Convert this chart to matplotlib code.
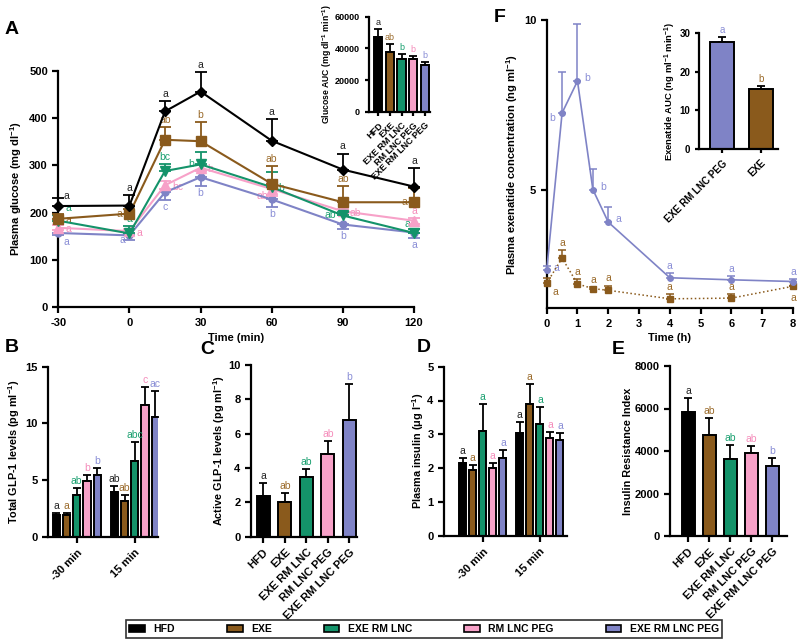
import matplotlib
matplotlib.use("Agg")
import matplotlib.pyplot as plt
from matplotlib.patches import Patch
import numpy as np

plt.rcParams['font.family'] = ['Liberation Sans', 'DejaVu Sans']
plt.rcParams['font.weight'] = 'bold'
plt.rcParams['axes.labelweight'] = 'bold'
plt.rcParams['axes.unicode_minus'] = False
plt.rcParams['mathtext.fontset'] = 'custom'
plt.rcParams['mathtext.rm'] = 'Liberation Sans:bold'
plt.rcParams['mathtext.default'] = 'rm'
plt.rcParams['axes.linewidth'] = 1.6
plt.rcParams['xtick.major.width'] = 1.6
plt.rcParams['ytick.major.width'] = 1.6
plt.rcParams['xtick.major.size'] = 4
plt.rcParams['ytick.major.size'] = 4

# groups and colours
groups = ["HFD", "EXE", "EXE RM LNC", "RM LNC PEG", "EXE RM LNC PEG"]
colors = ["#000000", "#8a5a1c", "#14936a", "#f7a1c8", "#7f83c6"]
text_colors = ["#222222", "#9a6a2a", "#1aa070", "#f58dbb", "#8a8ed6"]

# A - glucose tolerance test
time_min = [-30, 0, 15, 30, 60, 90, 120]
glu_hfd = [214, 215, 414, 456, 352, 291, 255]
glu_hfd_err = [17, 23, 22, 41, 46, 34, 39]
glu_exe = [187, 198, 354, 351, 261, 222, 222]
glu_exe_err = [11, 10, 26, 41, 37, 35, 30]
glu_rmlnc = [183, 156, 288, 302, 254, 194, 157]
glu_rmlnc_err = [13, 16, 14, 26, 31, 8, 8]
glu_peg = [168, 161, 258, 295, 250, 203, 183]
glu_peg_err = [5, 4, 8, 6, 14, 5, 6]
glu_exepeg = [157, 152, 243, 275, 228, 175, 158]
glu_exepeg_err = [5, 10, 17, 18, 16, 10, 12]
glu_letters = [
    ["a", "a", "a", "a", "a", "a", "a"],
    ["a", "a", "ab", "b", "ab", "ab", "a"],
    ["a", "a", "bc", "b", "b", "ab", "a"],
    ["a", "a", "bc", "b", "ab", "ab", "a"],
    ["a", "a", "c", "b", "b", "b", "a"],
]

# A inset - glucose AUC
auc_glu = [47400, 37900, 33100, 33500, 29500]
auc_glu_err = [4600, 4600, 3150, 1700, 1700]
auc_glu_letters = ["a", "ab", "b", "b", "b"]

# B - total GLP-1
times_bd = ["-30 min", "15 min"]
glp1_tot_m30 = [1.91, 1.88, 3.68, 4.88, 5.41]
glp1_tot_m30_err = [0.21, 0.18, 0.58, 0.56, 0.62]
glp1_tot_15 = [3.97, 3.18, 6.68, 11.62, 10.53]
glp1_tot_15_err = [0.5, 0.52, 1.67, 1.62, 2.35]
glp1_tot_letters = [["a", "a", "ab", "b", "b"], ["ab", "ab", "abc", "c", "ac"]]

# C - active GLP-1
glp1_act = [2.39, 2.02, 3.5, 4.82, 6.8]
glp1_act_err = [0.72, 0.54, 0.44, 0.73, 2.07]
glp1_act_letters = ["a", "ab", "ab", "ab", "b"]

# D - insulin
ins_m30 = [2.14, 1.94, 3.1, 2.01, 2.31]
ins_m30_err = [0.17, 0.15, 0.79, 0.13, 0.22]
ins_15 = [3.05, 3.9, 3.31, 2.88, 2.83]
ins_15_err = [0.32, 0.58, 0.51, 0.18, 0.2]
ins_letters = [["a"] * 5, ["a"] * 5]

# E - insulin resistance index
homa = [5850, 4750, 3620, 3920, 3290]
homa_err = [630, 820, 640, 310, 360]
homa_letters = ["a", "ab", "ab", "ab", "b"]

# F - pharmacokinetics
time_h = [0, 0.5, 1, 1.5, 2, 4, 6, 8]
conc_exepeg = [2.62, 7.26, 8.2, 5.0, 4.04, 2.40, 2.34, 2.29]
conc_exepeg_err = [0.12, 1.21, 1.68, 0.62, 0.45, 0.14, 0.10, 0.06]
conc_exepeg_letters = ["a", "b", "b", "b", "a", "a", "a", "a"]
conc_exe = [2.24, 2.98, 2.22, 2.08, 2.03, 1.78, 1.80, 2.15]
conc_exe_err = [0.15, 0.25, 0.15, 0.04, 0.14, 0.13, 0.13, 0.0]
conc_exe_letters = ["a", "a", "a", "a", "a", "a", "a", "a"]
auc_exe_groups = ["EXE RM LNC PEG", "EXE"]
auc_exe = [27.7, 15.5]
auc_exe_err = [1.4, 0.9]
auc_exe_letters = ["a", "b"]

W, H = 800, 643
fig = plt.figure(figsize=(8, 6.43), dpi=100)


def box(l, t, r, b):
    return [l / W, 1 - b / H, (r - l) / W, (b - t) / H]


def style(ax, fs=8):
    ax.spines['top'].set_visible(False)
    ax.spines['right'].set_visible(False)
    ax.tick_params(labelsize=fs)
    for t in ax.get_xticklabels() + ax.get_yticklabels():
        t.set_fontweight('bold')


def letter(ax, x, y, s, color, dx=0, dy=1.5, ha='center', va='bottom', fs=7.5):
    ax.annotate(s, (x, y), xytext=(dx, dy), textcoords='offset points',
                ha=ha, va=va, color=color, fontsize=fs, fontweight='normal',
                annotation_clip=False)


def bars(ax, xs, vals, errs, cols, width, letters, tcols, fs=7.5):
    ax.bar(xs, vals, width, color=cols, edgecolor='black', linewidth=1.4, zorder=2)
    ax.errorbar(xs, vals, yerr=[np.zeros(len(vals)), errs], fmt='none',
                ecolor='black', elinewidth=1.3, capsize=3, capthick=1.3, zorder=1)
    for x, v, e, s, c in zip(xs, vals, errs, letters, tcols):
        letter(ax, x, v + e, s, c, fs=fs)


# ---------- A ----------
axA = fig.add_axes(box(58.3, 70.7, 414, 307.3))
series = [glu_hfd, glu_exe, glu_rmlnc, glu_peg, glu_exepeg]
errs = [glu_hfd_err, glu_exe_err, glu_rmlnc_err, glu_peg_err, glu_exepeg_err]
markers = ['D', 's', 'v', '^', 'o']
msizes = [5, 7, 6.5, 6.5, 5]
err_dir = ['up', 'up', 'up', 'both', 'down']
places = [
    ['ur', 'u', 'u', 'u', 'u', 'u', 'u'],
    ['r', 'l', 'u', 'u', 'u', 'u', 'l'],
    ['ru', 'u', 'u', 'l', 'r', 'l', 'ul'],
    ['r', 'r', 'r', 'r', 'dl', 'r', 'u'],
    ['dr', 'dl', 'd', 'd', 'd', 'd', 'd'],
]
for i in range(5):
    v = np.array(series[i], float)
    e = np.array(errs[i], float)
    lo = e if err_dir[i] in ('down', 'both') else np.zeros_like(e)
    hi = e if err_dir[i] in ('up', 'both') else np.zeros_like(e)
    axA.errorbar(time_min, v, yerr=[lo, hi], color=colors[i], marker=markers[i],
                 ms=msizes[i], lw=1.5, elinewidth=1.3, capsize=4, capthick=1.3,
                 clip_on=False, zorder=5 - i * 0.5)
    for x, y, l, h, s, p in zip(time_min, v, lo, hi, glu_letters[i], places[i]):
        c = text_colors[i]
        if p == 'u':
            letter(axA, x, y + h, s, c)
        elif p == 'ur':
            letter(axA, x, y + h, s, c, dx=4, dy=-2.5, ha='left')
        elif p == 'ru':
            letter(axA, x, y + h, s, c, dx=5, dy=1, ha='left')
        elif p == 'ul':
            letter(axA, x, y + h, s, c, dx=-3, dy=0, ha='right')
        elif p == 'r':
            letter(axA, x, y, s, c, dx=5, dy=-1, ha='left', va='center')
        elif p == 'l':
            letter(axA, x, y, s, c, dx=-5, dy=0, ha='right', va='center')
        elif p == 'd':
            letter(axA, x, y - l, s, c, dy=-1.5, va='top')
        elif p == 'dr':
            letter(axA, x, y - l, s, c, dx=4, dy=-1, ha='left', va='top')
        elif p == 'dl':
            letter(axA, x, y - l, s, c, dx=-3, dy=0, ha='right', va='center')
axA.set_xlim(-30, 120)
axA.set_ylim(0, 500)
axA.set_xticks([-30, 0, 30, 60, 90, 120])
axA.set_yticks([0, 100, 200, 300, 400, 500])
axA.set_xlabel("Time (min)", fontsize=8, labelpad=3.5)
axA.set_ylabel("Plasma glucose (mg dl$^{-1}$)", fontsize=8, labelpad=4)
style(axA)

# inset A
axAi = fig.add_axes(box(369, 16.7, 430, 111.7))
xs = np.arange(5)
bars(axAi, xs, auc_glu, auc_glu_err, colors, 0.7, auc_glu_letters, text_colors, fs=6.5)
axAi.set_xlim(-0.8, 4.45)
axAi.set_ylim(0, 60000)
axAi.set_yticks([0, 20000, 40000, 60000])
axAi.set_xticks(xs)
axAi.set_xticklabels(groups, rotation=45, ha='right', rotation_mode='anchor')
axAi.set_ylabel("Glucose AUC (mg dl$^{-1}$ min$^{-1}$)", fontsize=6.2, labelpad=0.5)
style(axAi, fs=6.5)
axAi.tick_params(length=3)

# ---------- F ----------
axF = fig.add_axes(box(546.7, 20, 793, 308.3))
axF.errorbar(time_h, conc_exepeg, yerr=[np.zeros(8), conc_exepeg_err], color=colors[4],
             marker='o', ms=4, lw=1.2, elinewidth=1.1, capsize=3, capthick=1.1,
             clip_on=False, zorder=4)
axF.errorbar(time_h, conc_exe, yerr=[np.zeros(8), conc_exe_err], color=colors[1],
             marker='s', ms=4.5, lw=1.1, ls=':', elinewidth=1.1, capsize=3, capthick=1.1,
             clip_on=False, zorder=3)
pl_peg = ['r', 'l', 'r', 'r', 'r', 'u', 'u', 'u']
pl_exe = ['dr', 'u', 'u', 'u', 'u', 'u', 'u', 'd']
for x, y, e, s, p in zip(time_h, conc_exepeg, conc_exepeg_err, conc_exepeg_letters, pl_peg):
    c = text_colors[4]
    if p == 'u':
        letter(axF, x, y + e, s, c)
    elif p == 'r':
        letter(axF, x, y, s, c, dx=5, dy=2, ha='left', va='center')
    else:
        letter(axF, x, y, s, c, dx=-5, dy=-4, ha='right', va='center')
for x, y, e, s, p in zip(time_h, conc_exe, conc_exe_err, conc_exe_letters, pl_exe):
    c = text_colors[1]
    if p == 'u':
        letter(axF, x, y + e, s, c)
    elif p == 'dr':
        letter(axF, x, y, s, c, dx=4, dy=-3, ha='left', va='top')
    else:
        letter(axF, x, y, s, c, dy=-5, va='top')
axF.set_xlim(0, 8)
axF.set_ylim(1.5, 10)
axF.set_xticks(range(9))
axF.set_yticks([5, 10])
axF.set_xlabel("Time (h)", fontsize=8, labelpad=3)
axF.set_ylabel("Plasma exenatide concentration (ng ml$^{-1}$)", fontsize=8, labelpad=3)
style(axF)

# inset F
axFi = fig.add_axes(box(699.3, 33.3, 778, 149))
xs = np.arange(2)
bars(axFi, xs, auc_exe, auc_exe_err, [colors[4], colors[1]], 0.6, auc_exe_letters,
     [text_colors[4], text_colors[1]], fs=7)
axFi.set_xlim(-0.58, 1.44)
axFi.set_ylim(0, 30)
axFi.set_yticks([0, 10, 20, 30])
axFi.set_xticks(xs)
axFi.set_xticklabels(auc_exe_groups, rotation=45, ha='right', rotation_mode='anchor')
axFi.set_ylabel("Exenatide AUC (ng ml$^{-1}$ min$^{-1}$)", fontsize=6.8, labelpad=1)
style(axFi, fs=7)
axFi.tick_params(length=3)


# ---------- grouped bars B / D ----------
def grouped(ax, m30, m30e, v15, v15e, lets, step):
    offs = (np.arange(5) - 2) * step
    bars(ax, 0 + offs, m30, m30e, colors, step * 0.7, lets[0], text_colors)
    bars(ax, 1 + offs, v15, v15e, colors, step * 0.7, lets[1], text_colors)
    ax.set_xticks([0, 1])
    ax.set_xticklabels(times_bd, rotation=45, ha='right', rotation_mode='anchor')


axB = fig.add_axes(box(48, 366.7, 158, 536.7))
grouped(axB, glp1_tot_m30, glp1_tot_m30_err, glp1_tot_15, glp1_tot_15_err,
        glp1_tot_letters, 0.176)
axB.set_xlim(-0.495, 1.40)
axB.set_ylim(0, 15)
axB.set_yticks([0, 5, 10, 15])
axB.set_ylabel("Total GLP-1 levels (pg ml$^{-1}$)", fontsize=7.8, labelpad=2)
style(axB)

axC = fig.add_axes(box(251, 365, 357, 536.7))
xs = np.arange(5)
bars(axC, xs, glp1_act, glp1_act_err, colors, 0.6, glp1_act_letters, text_colors)
axC.set_xlim(-0.57, 4.36)
axC.set_ylim(0, 10)
axC.set_yticks([0, 2, 4, 6, 8, 10])
axC.set_xticks(xs)
axC.set_xticklabels(groups, rotation=45, ha='right', rotation_mode='anchor')
axC.set_ylabel("Active GLP-1 levels (pg ml$^{-1}$)", fontsize=7.8, labelpad=1)
style(axC)

axD = fig.add_axes(box(444, 366.7, 566.7, 535.7))
grouped(axD, ins_m30, ins_m30_err, ins_15, ins_15_err, ins_letters, 0.176)
axD.set_xlim(-0.68, 1.47)
axD.set_ylim(0, 5)
axD.set_yticks([0, 1, 2, 3, 4, 5])
axD.set_ylabel("Plasma insulin (\u03bcg l$^{-1}$)", fontsize=7.8, labelpad=1)
style(axD)

axE = fig.add_axes(box(670, 366, 786.7, 536))
bars(axE, xs, homa, homa_err, colors, 0.62, homa_letters, text_colors)
axE.set_xlim(-0.87, 4.69)
axE.set_ylim(0, 8000)
axE.set_yticks([0, 2000, 4000, 6000, 8000])
axE.set_xticks(xs)
axE.set_xticklabels(groups, rotation=45, ha='right', rotation_mode='anchor')
axE.set_ylabel("Insulin Resistance Index", fontsize=7.8, labelpad=1)
style(axE)

# panel letters
for s, x, y in [("A", 12, 29), ("F", 500, 18), ("B", 12, 347), ("C", 207, 350),
                ("D", 424, 348), ("E", 618, 350)]:
    fig.text(x / W, 1 - y / H, s, fontsize=14, fontweight='bold', ha='center', va='center')

# legend
handles = [Patch(facecolor=c, edgecolor='black', linewidth=1.2) for c in colors]
leg = fig.legend(handles, groups, loc='center', bbox_to_anchor=(424 / W, 1 - 629 / H),
                 ncol=5, frameon=True, fancybox=False, edgecolor='black',
                 handlelength=1.5, handleheight=0.6, columnspacing=5.0,
                 borderpad=0.35, prop={'weight': 'bold', 'size': 7.5})
leg.get_frame().set_linewidth(1.2)

fig.savefig("out.png", dpi=100)
